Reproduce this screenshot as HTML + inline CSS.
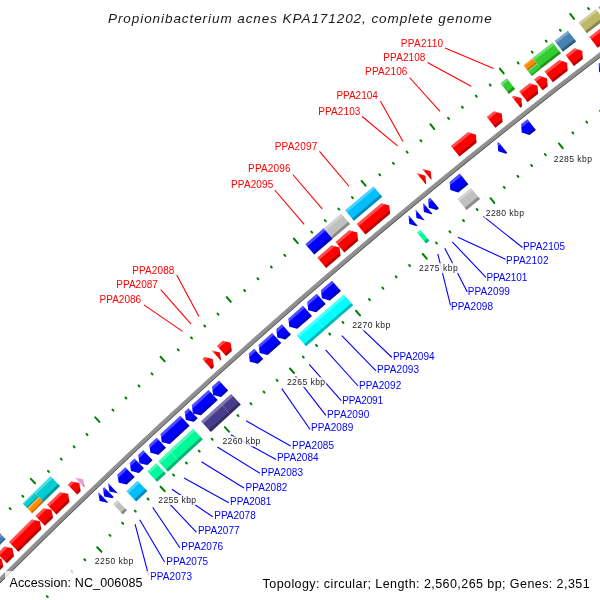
<!DOCTYPE html><html><head><meta charset="utf-8"><style>html,body{margin:0;padding:0;background:#fff;width:600px;height:600px;overflow:hidden;position:relative}</style></head><body><svg width="600" height="600" viewBox="0 0 600 600" style="position:absolute;left:0;top:0;will-change:transform">
<defs><clipPath id="cH143"><rect x="-500" y="-1" width="1000" height="4.00"/></clipPath><clipPath id="cS143"><rect x="-500" y="11.44" width="1000" height="3.86"/></clipPath><clipPath id="cH136"><rect x="-500" y="-1" width="1000" height="3.86"/></clipPath><clipPath id="cS136"><rect x="-500" y="10.88" width="1000" height="3.72"/></clipPath><clipPath id="cH68"><rect x="-500" y="-1" width="1000" height="2.43"/></clipPath><clipPath id="cS68"><rect x="-500" y="5.44" width="1000" height="2.36"/></clipPath><clipPath id="cH68"><rect x="-500" y="-1" width="1000" height="2.43"/></clipPath><clipPath id="cS68"><rect x="-500" y="5.44" width="1000" height="2.36"/></clipPath></defs>
<rect width="600" height="600" fill="#fff"/>
<g stroke="#008000" stroke-width="2" stroke-linecap="round"><line x1="-52.43" y1="571.87" x2="-53.43" y2="570.88"/><line x1="10.63" y1="634.34" x2="9.63" y2="633.35"/><line x1="-39.89" y1="559.25" x2="-40.89" y2="558.26"/><line x1="22.99" y1="621.90" x2="21.99" y2="620.91"/><line x1="-28.31" y1="545.67" x2="-32.69" y2="541.28"/><line x1="38.98" y1="613.11" x2="34.67" y2="608.79"/><line x1="-14.71" y1="534.11" x2="-15.69" y2="533.12"/><line x1="47.81" y1="597.13" x2="46.82" y2="596.14"/><line x1="-2.06" y1="521.60" x2="-3.04" y2="520.61"/><line x1="60.27" y1="584.80" x2="59.29" y2="583.81"/><line x1="10.63" y1="509.13" x2="9.65" y2="508.13"/><line x1="72.77" y1="572.51" x2="71.79" y2="571.51"/><line x1="23.35" y1="496.69" x2="22.37" y2="495.69"/><line x1="85.31" y1="560.26" x2="84.33" y2="559.25"/><line x1="35.13" y1="483.29" x2="30.82" y2="478.84"/><line x1="101.43" y1="551.70" x2="97.18" y2="547.32"/><line x1="48.90" y1="471.93" x2="47.93" y2="470.92"/><line x1="110.49" y1="535.85" x2="109.51" y2="534.85"/><line x1="61.73" y1="459.61" x2="60.76" y2="458.60"/><line x1="123.13" y1="523.71" x2="122.16" y2="522.70"/><line x1="74.59" y1="447.32" x2="73.63" y2="446.30"/><line x1="135.81" y1="511.60" x2="134.84" y2="510.59"/><line x1="87.50" y1="435.07" x2="86.53" y2="434.05"/><line x1="148.52" y1="499.53" x2="147.56" y2="498.51"/><line x1="99.47" y1="421.84" x2="95.22" y2="417.32"/><line x1="164.77" y1="491.21" x2="160.58" y2="486.77"/><line x1="113.41" y1="410.68" x2="112.45" y2="409.66"/><line x1="174.05" y1="475.50" x2="173.10" y2="474.47"/><line x1="126.41" y1="398.55" x2="125.46" y2="397.52"/><line x1="186.87" y1="463.54" x2="185.92" y2="462.51"/><line x1="139.46" y1="386.45" x2="138.51" y2="385.42"/><line x1="199.73" y1="451.62" x2="198.78" y2="450.59"/><line x1="152.54" y1="374.39" x2="151.59" y2="373.36"/><line x1="212.61" y1="439.73" x2="211.67" y2="438.70"/><line x1="164.71" y1="361.33" x2="160.52" y2="356.76"/><line x1="228.98" y1="431.65" x2="224.86" y2="427.15"/><line x1="178.80" y1="350.38" x2="177.86" y2="349.35"/><line x1="238.50" y1="416.07" x2="237.55" y2="415.04"/><line x1="191.98" y1="338.44" x2="191.04" y2="337.40"/><line x1="251.49" y1="404.30" x2="250.55" y2="403.26"/><line x1="205.20" y1="326.53" x2="204.27" y2="325.49"/><line x1="264.51" y1="392.57" x2="263.58" y2="391.53"/><line x1="218.45" y1="314.66" x2="217.52" y2="313.62"/><line x1="277.57" y1="380.87" x2="276.64" y2="379.83"/><line x1="230.81" y1="301.78" x2="226.70" y2="297.15"/><line x1="294.05" y1="373.03" x2="290.00" y2="368.47"/><line x1="245.06" y1="291.04" x2="244.14" y2="289.99"/><line x1="303.80" y1="357.60" x2="302.87" y2="356.55"/><line x1="258.42" y1="279.29" x2="257.50" y2="278.24"/><line x1="316.96" y1="346.02" x2="316.04" y2="344.96"/><line x1="271.81" y1="267.58" x2="270.89" y2="266.52"/><line x1="330.15" y1="334.47" x2="329.23" y2="333.42"/><line x1="285.24" y1="255.90" x2="284.32" y2="254.84"/><line x1="343.38" y1="322.97" x2="342.47" y2="321.91"/><line x1="297.78" y1="243.21" x2="293.74" y2="238.51"/><line x1="359.98" y1="315.37" x2="355.99" y2="310.75"/><line x1="312.19" y1="232.67" x2="311.28" y2="231.61"/><line x1="369.94" y1="300.08" x2="369.03" y2="299.02"/><line x1="325.72" y1="221.12" x2="324.81" y2="220.05"/><line x1="383.27" y1="288.69" x2="382.37" y2="287.63"/><line x1="339.28" y1="209.60" x2="338.37" y2="208.53"/><line x1="396.64" y1="277.34" x2="395.73" y2="276.28"/><line x1="352.87" y1="198.13" x2="351.97" y2="197.05"/><line x1="410.03" y1="266.03" x2="409.13" y2="264.96"/><line x1="365.60" y1="185.61" x2="361.62" y2="180.86"/><line x1="426.73" y1="258.68" x2="422.82" y2="254.00"/><line x1="380.16" y1="175.29" x2="379.26" y2="174.22"/><line x1="436.92" y1="243.53" x2="436.03" y2="242.46"/><line x1="393.85" y1="163.93" x2="392.96" y2="162.86"/><line x1="450.42" y1="232.34" x2="449.53" y2="231.26"/><line x1="407.58" y1="152.62" x2="406.69" y2="151.54"/><line x1="463.95" y1="221.19" x2="463.06" y2="220.11"/><line x1="421.34" y1="141.34" x2="420.45" y2="140.26"/><line x1="477.50" y1="210.08" x2="476.62" y2="208.99"/><line x1="434.25" y1="129.02" x2="430.34" y2="124.20"/><line x1="494.31" y1="202.96" x2="490.47" y2="198.23"/><line x1="448.96" y1="118.91" x2="448.08" y2="117.82"/><line x1="504.72" y1="187.97" x2="503.84" y2="186.88"/><line x1="462.82" y1="107.75" x2="461.94" y2="106.66"/><line x1="518.38" y1="176.98" x2="517.50" y2="175.88"/><line x1="476.71" y1="96.64" x2="475.83" y2="95.54"/><line x1="532.07" y1="166.02" x2="531.19" y2="164.93"/><line x1="490.63" y1="85.56" x2="489.76" y2="84.46"/><line x1="545.79" y1="155.11" x2="544.92" y2="154.01"/><line x1="503.72" y1="73.43" x2="499.88" y2="68.56"/><line x1="562.70" y1="148.24" x2="558.92" y2="143.45"/><line x1="518.57" y1="63.53" x2="517.71" y2="62.43"/><line x1="573.32" y1="133.40" x2="572.46" y2="132.30"/><line x1="532.59" y1="52.58" x2="531.73" y2="51.48"/><line x1="587.14" y1="122.61" x2="586.28" y2="121.50"/><line x1="546.64" y1="41.67" x2="545.79" y2="40.56"/><line x1="600.98" y1="111.86" x2="600.13" y2="110.75"/><line x1="560.73" y1="30.80" x2="559.87" y2="29.69"/><line x1="614.86" y1="101.14" x2="614.01" y2="100.03"/><line x1="573.99" y1="18.86" x2="570.22" y2="13.93"/><line x1="631.87" y1="94.52" x2="628.16" y2="89.68"/><line x1="588.99" y1="9.18" x2="588.14" y2="8.07"/><line x1="642.71" y1="79.84" x2="641.86" y2="78.73"/><line x1="603.16" y1="-1.57" x2="602.32" y2="-2.68"/><line x1="656.68" y1="69.25" x2="655.84" y2="68.13"/><line x1="617.37" y1="-12.27" x2="616.53" y2="-13.39"/><line x1="670.69" y1="58.70" x2="669.84" y2="57.58"/></g>
<line x1="493.61" y1="68.41" x2="445.00" y2="48.00" stroke="#ff0000" stroke-width="1.1"/><line x1="471.11" y1="86.26" x2="427.50" y2="62.50" stroke="#ff0000" stroke-width="1.1"/><line x1="439.94" y1="111.28" x2="409.50" y2="77.50" stroke="#ff0000" stroke-width="1.1"/><line x1="402.95" y1="141.41" x2="380.50" y2="101.30" stroke="#ff0000" stroke-width="1.1"/><line x1="397.51" y1="145.88" x2="362.10" y2="116.50" stroke="#ff0000" stroke-width="1.1"/><line x1="348.98" y1="186.24" x2="319.50" y2="151.30" stroke="#ff0000" stroke-width="1.1"/><line x1="322.19" y1="208.89" x2="292.80" y2="174.50" stroke="#ff0000" stroke-width="1.1"/><line x1="304.17" y1="224.27" x2="274.70" y2="190.00" stroke="#ff0000" stroke-width="1.1"/><line x1="198.92" y1="316.58" x2="176.70" y2="275.00" stroke="#ff0000" stroke-width="1.1"/><line x1="190.90" y1="323.79" x2="160.70" y2="289.70" stroke="#ff0000" stroke-width="1.1"/><line x1="182.54" y1="331.33" x2="143.90" y2="304.90" stroke="#ff0000" stroke-width="1.1"/><line x1="483.32" y1="216.43" x2="522.50" y2="247.50" stroke="#0000ff" stroke-width="1.1"/><line x1="457.98" y1="237.25" x2="505.50" y2="259.20" stroke="#0000ff" stroke-width="1.1"/><line x1="452.25" y1="241.99" x2="486.00" y2="277.30" stroke="#0000ff" stroke-width="1.1"/><line x1="444.78" y1="248.19" x2="467.30" y2="292.00" stroke="#0000ff" stroke-width="1.1"/><line x1="437.81" y1="253.98" x2="450.50" y2="305.30" stroke="#0000ff" stroke-width="1.1"/><line x1="356.15" y1="323.30" x2="392.00" y2="357.50" stroke="#0000ff" stroke-width="1.1"/><line x1="341.82" y1="335.72" x2="376.00" y2="370.80" stroke="#0000ff" stroke-width="1.1"/><line x1="325.61" y1="349.87" x2="358.10" y2="386.00" stroke="#0000ff" stroke-width="1.1"/><line x1="309.18" y1="364.31" x2="341.30" y2="400.70" stroke="#0000ff" stroke-width="1.1"/><line x1="295.57" y1="376.36" x2="325.90" y2="415.30" stroke="#0000ff" stroke-width="1.1"/><line x1="281.78" y1="388.65" x2="310.10" y2="429.50" stroke="#0000ff" stroke-width="1.1"/><line x1="246.10" y1="420.78" x2="290.70" y2="446.10" stroke="#0000ff" stroke-width="1.1"/><line x1="230.85" y1="434.67" x2="276.00" y2="459.50" stroke="#0000ff" stroke-width="1.1"/><line x1="217.38" y1="447.03" x2="260.00" y2="473.30" stroke="#0000ff" stroke-width="1.1"/><line x1="201.42" y1="461.77" x2="244.00" y2="488.00" stroke="#0000ff" stroke-width="1.1"/><line x1="184.05" y1="477.93" x2="228.80" y2="502.70" stroke="#0000ff" stroke-width="1.1"/><line x1="171.92" y1="489.29" x2="212.70" y2="516.70" stroke="#0000ff" stroke-width="1.1"/><line x1="163.42" y1="497.29" x2="196.30" y2="532.20" stroke="#0000ff" stroke-width="1.1"/><line x1="152.74" y1="507.37" x2="179.90" y2="547.80" stroke="#0000ff" stroke-width="1.1"/><line x1="139.72" y1="519.75" x2="164.60" y2="562.00" stroke="#0000ff" stroke-width="1.1"/><line x1="135.06" y1="524.20" x2="148.70" y2="575.60" stroke="#0000ff" stroke-width="1.1"/>
<path d="M-21.885 602.128 A6054.000 6054.000 0 0 1 643.199 22.107" fill="none" stroke="#8e8e8e" stroke-width="4.60"/><path d="M-23.092 600.931 A6055.700 6055.700 0 0 1 642.178 20.748" fill="none" stroke="#999" stroke-width="1.00"/><path d="M-20.606 603.395 A6052.200 6052.200 0 0 1 644.280 23.546" fill="none" stroke="#5a5a5a" stroke-width="1.00"/>
<g transform="translate(-13.387 564.261) rotate(315.0388)"><polygon points="-14.58,0.00 9.98,0.00 14.58,6.80 9.98,13.60 -14.58,13.60" fill="#ff0000"/><polygon points="-14.58,0.00 9.98,0.00 14.58,6.80 9.98,13.60 -14.58,13.60" fill="#fff" fill-opacity="0.3" clip-path="url(#cH136)"/><polygon points="-14.58,0.00 9.98,0.00 14.58,6.80 9.98,13.60 -14.58,13.60" fill="#000" fill-opacity="0.28" clip-path="url(#cS136)"/></g><g transform="translate(2.484 548.471) rotate(315.2499)"><polygon points="-7.25,0.00 2.65,0.00 7.25,6.80 2.65,13.60 -7.25,13.60" fill="#ff0000"/><polygon points="-7.25,0.00 2.65,0.00 7.25,6.80 2.65,13.60 -7.25,13.60" fill="#fff" fill-opacity="0.3" clip-path="url(#cH136)"/><polygon points="-7.25,0.00 2.65,0.00 7.25,6.80 2.65,13.60 -7.25,13.60" fill="#000" fill-opacity="0.28" clip-path="url(#cS136)"/></g><g transform="translate(22.010 529.201) rotate(315.5087)"><polygon points="-18.39,0.00 13.79,0.00 18.39,6.80 13.79,13.60 -18.39,13.60" fill="#ff0000"/><polygon points="-18.39,0.00 13.79,0.00 18.39,6.80 13.79,13.60 -18.39,13.60" fill="#fff" fill-opacity="0.3" clip-path="url(#cH136)"/><polygon points="-18.39,0.00 13.79,0.00 18.39,6.80 13.79,13.60 -18.39,13.60" fill="#000" fill-opacity="0.28" clip-path="url(#cS136)"/></g><g transform="translate(41.117 510.513) rotate(315.7608)"><polygon points="-7.96,0.00 3.36,0.00 7.96,6.80 3.36,13.60 -7.96,13.60" fill="#ff0000"/><polygon points="-7.96,0.00 3.36,0.00 7.96,6.80 3.36,13.60 -7.96,13.60" fill="#fff" fill-opacity="0.3" clip-path="url(#cH136)"/><polygon points="-7.96,0.00 3.36,0.00 7.96,6.80 3.36,13.60 -7.96,13.60" fill="#000" fill-opacity="0.28" clip-path="url(#cS136)"/></g><g transform="translate(55.196 496.848) rotate(315.9458)"><polygon points="-11.34,0.00 6.74,0.00 11.34,6.80 6.74,13.60 -11.34,13.60" fill="#ff0000"/><polygon points="-11.34,0.00 6.74,0.00 11.34,6.80 6.74,13.60 -11.34,13.60" fill="#fff" fill-opacity="0.3" clip-path="url(#cH136)"/><polygon points="-11.34,0.00 6.74,0.00 11.34,6.80 6.74,13.60 -11.34,13.60" fill="#000" fill-opacity="0.28" clip-path="url(#cS136)"/></g><g transform="translate(71.164 481.455) rotate(316.1550)"><polygon points="-4.71,0.00 0.11,0.00 4.71,6.80 0.11,13.60 -4.71,13.60" fill="#ff0000"/><polygon points="-4.71,0.00 0.11,0.00 4.71,6.80 0.11,13.60 -4.71,13.60" fill="#fff" fill-opacity="0.3" clip-path="url(#cH136)"/><polygon points="-4.71,0.00 0.11,0.00 4.71,6.80 0.11,13.60 -4.71,13.60" fill="#000" fill-opacity="0.28" clip-path="url(#cS136)"/></g><g transform="translate(76.797 476.051) rotate(316.2286)"><polygon points="-2.43,0.00 -2.17,0.00 2.43,6.80 -2.17,13.60 -2.43,13.60" fill="#f39ad6"/><polygon points="-2.43,0.00 -2.17,0.00 2.43,6.80 -2.17,13.60 -2.43,13.60" fill="#fff" fill-opacity="0.3" clip-path="url(#cH136)"/><polygon points="-2.43,0.00 -2.17,0.00 2.43,6.80 -2.17,13.60 -2.43,13.60" fill="#000" fill-opacity="0.28" clip-path="url(#cS136)"/></g><g transform="translate(205.276 356.478) rotate(317.8841)"><polygon points="-3.84,0.00 -0.76,0.00 3.84,6.80 -0.76,13.60 -3.84,13.60" fill="#ff0000"/><polygon points="-3.84,0.00 -0.76,0.00 3.84,6.80 -0.76,13.60 -3.84,13.60" fill="#fff" fill-opacity="0.3" clip-path="url(#cH136)"/><polygon points="-3.84,0.00 -0.76,0.00 3.84,6.80 -0.76,13.60 -3.84,13.60" fill="#000" fill-opacity="0.28" clip-path="url(#cS136)"/></g><g transform="translate(213.590 348.976) rotate(317.9897)"><polygon points="-2.38,0.00 -2.22,0.00 2.38,6.80 -2.22,13.60 -2.38,13.60" fill="#ff0000"/><polygon points="-2.38,0.00 -2.22,0.00 2.38,6.80 -2.22,13.60 -2.38,13.60" fill="#fff" fill-opacity="0.3" clip-path="url(#cH136)"/><polygon points="-2.38,0.00 -2.22,0.00 2.38,6.80 -2.22,13.60 -2.38,13.60" fill="#000" fill-opacity="0.28" clip-path="url(#cS136)"/></g><g transform="translate(221.561 341.809) rotate(318.0908)"><polygon points="-6.14,0.00 1.54,0.00 6.14,6.80 1.54,13.60 -6.14,13.60" fill="#ff0000"/><polygon points="-6.14,0.00 1.54,0.00 6.14,6.80 1.54,13.60 -6.14,13.60" fill="#fff" fill-opacity="0.3" clip-path="url(#cH136)"/><polygon points="-6.14,0.00 1.54,0.00 6.14,6.80 1.54,13.60 -6.14,13.60" fill="#000" fill-opacity="0.28" clip-path="url(#cS136)"/></g><g transform="translate(326.227 250.011) rotate(319.4039)"><polygon points="-11.73,0.00 7.13,0.00 11.73,6.80 7.13,13.60 -11.73,13.60" fill="#ff0000"/><polygon points="-11.73,0.00 7.13,0.00 11.73,6.80 7.13,13.60 -11.73,13.60" fill="#fff" fill-opacity="0.3" clip-path="url(#cH136)"/><polygon points="-11.73,0.00 7.13,0.00 11.73,6.80 7.13,13.60 -11.73,13.60" fill="#000" fill-opacity="0.28" clip-path="url(#cS136)"/></g><g transform="translate(344.150 234.711) rotate(319.6262)"><polygon points="-11.31,0.00 6.71,0.00 11.31,6.80 6.71,13.60 -11.31,13.60" fill="#ff0000"/><polygon points="-11.31,0.00 6.71,0.00 11.31,6.80 6.71,13.60 -11.31,13.60" fill="#fff" fill-opacity="0.3" clip-path="url(#cH136)"/><polygon points="-11.31,0.00 6.71,0.00 11.31,6.80 6.71,13.60 -11.31,13.60" fill="#000" fill-opacity="0.28" clip-path="url(#cS136)"/></g><g transform="translate(370.793 212.189) rotate(319.9553)"><polygon points="-18.41,0.00 13.81,0.00 18.41,6.80 13.81,13.60 -18.41,13.60" fill="#ff0000"/><polygon points="-18.41,0.00 13.81,0.00 18.41,6.80 13.81,13.60 -18.41,13.60" fill="#fff" fill-opacity="0.3" clip-path="url(#cH136)"/><polygon points="-18.41,0.00 13.81,0.00 18.41,6.80 13.81,13.60 -18.41,13.60" fill="#000" fill-opacity="0.28" clip-path="url(#cS136)"/></g><g transform="translate(419.053 172.053) rotate(320.5473)"><polygon points="-2.57,0.00 -2.03,0.00 2.57,6.80 -2.03,13.60 -2.57,13.60" fill="#ff0000"/><polygon points="-2.57,0.00 -2.03,0.00 2.57,6.80 -2.03,13.60 -2.57,13.60" fill="#fff" fill-opacity="0.3" clip-path="url(#cH136)"/><polygon points="-2.57,0.00 -2.03,0.00 2.57,6.80 -2.03,13.60 -2.57,13.60" fill="#000" fill-opacity="0.28" clip-path="url(#cS136)"/></g><g transform="translate(424.462 167.607) rotate(320.6133)"><polygon points="-2.49,0.00 -2.11,0.00 2.49,6.80 -2.11,13.60 -2.49,13.60" fill="#ff0000"/><polygon points="-2.49,0.00 -2.11,0.00 2.49,6.80 -2.11,13.60 -2.49,13.60" fill="#fff" fill-opacity="0.3" clip-path="url(#cH136)"/><polygon points="-2.49,0.00 -2.11,0.00 2.49,6.80 -2.11,13.60 -2.49,13.60" fill="#000" fill-opacity="0.28" clip-path="url(#cS136)"/></g><g transform="translate(461.241 137.650) rotate(321.0607)"><polygon points="-13.27,0.00 8.67,0.00 13.27,6.80 8.67,13.60 -13.27,13.60" fill="#ff0000"/><polygon points="-13.27,0.00 8.67,0.00 13.27,6.80 8.67,13.60 -13.27,13.60" fill="#fff" fill-opacity="0.3" clip-path="url(#cH136)"/><polygon points="-13.27,0.00 8.67,0.00 13.27,6.80 8.67,13.60 -13.27,13.60" fill="#000" fill-opacity="0.28" clip-path="url(#cS136)"/></g><g transform="translate(492.241 112.769) rotate(321.4356)"><polygon points="-6.91,0.00 2.31,0.00 6.91,6.80 2.31,13.60 -6.91,13.60" fill="#ff0000"/><polygon points="-6.91,0.00 2.31,0.00 6.91,6.80 2.31,13.60 -6.91,13.60" fill="#fff" fill-opacity="0.3" clip-path="url(#cH136)"/><polygon points="-6.91,0.00 2.31,0.00 6.91,6.80 2.31,13.60 -6.91,13.60" fill="#000" fill-opacity="0.28" clip-path="url(#cS136)"/></g><g transform="translate(514.615 95.017) rotate(321.7050)"><polygon points="-3.26,0.00 -1.34,0.00 3.26,6.80 -1.34,13.60 -3.26,13.60" fill="#ff0000"/><polygon points="-3.26,0.00 -1.34,0.00 3.26,6.80 -1.34,13.60 -3.26,13.60" fill="#fff" fill-opacity="0.3" clip-path="url(#cH136)"/><polygon points="-3.26,0.00 -1.34,0.00 3.26,6.80 -1.34,13.60 -3.26,13.60" fill="#000" fill-opacity="0.28" clip-path="url(#cS136)"/></g><g transform="translate(526.260 85.844) rotate(321.8449)"><polygon points="-9.00,0.00 4.40,0.00 9.00,6.80 4.40,13.60 -9.00,13.60" fill="#ff0000"/><polygon points="-9.00,0.00 4.40,0.00 9.00,6.80 4.40,13.60 -9.00,13.60" fill="#fff" fill-opacity="0.3" clip-path="url(#cH136)"/><polygon points="-9.00,0.00 4.40,0.00 9.00,6.80 4.40,13.60 -9.00,13.60" fill="#000" fill-opacity="0.28" clip-path="url(#cS136)"/></g><g transform="translate(538.528 76.231) rotate(321.9919)"><polygon points="-5.47,0.00 0.87,0.00 5.47,6.80 0.87,13.60 -5.47,13.60" fill="#ff0000"/><polygon points="-5.47,0.00 0.87,0.00 5.47,6.80 0.87,13.60 -5.47,13.60" fill="#fff" fill-opacity="0.3" clip-path="url(#cH136)"/><polygon points="-5.47,0.00 0.87,0.00 5.47,6.80 0.87,13.60 -5.47,13.60" fill="#000" fill-opacity="0.28" clip-path="url(#cS136)"/></g><g transform="translate(553.734 64.386) rotate(322.1737)"><polygon points="-11.61,0.00 7.01,0.00 11.61,6.80 7.01,13.60 -11.61,13.60" fill="#ff0000"/><polygon points="-11.61,0.00 7.01,0.00 11.61,6.80 7.01,13.60 -11.61,13.60" fill="#fff" fill-opacity="0.3" clip-path="url(#cH136)"/><polygon points="-11.61,0.00 7.01,0.00 11.61,6.80 7.01,13.60 -11.61,13.60" fill="#000" fill-opacity="0.28" clip-path="url(#cS136)"/></g><g transform="translate(571.879 50.353) rotate(322.3900)"><polygon points="-7.91,0.00 3.31,0.00 7.91,6.80 3.31,13.60 -7.91,13.60" fill="#ff0000"/><polygon points="-7.91,0.00 3.31,0.00 7.91,6.80 3.31,13.60 -7.91,13.60" fill="#fff" fill-opacity="0.3" clip-path="url(#cH136)"/><polygon points="-7.91,0.00 3.31,0.00 7.91,6.80 3.31,13.60 -7.91,13.60" fill="#000" fill-opacity="0.28" clip-path="url(#cS136)"/></g><g transform="translate(600.651 28.324) rotate(322.7318)"><polygon points="-14.14,0.00 9.54,0.00 14.14,6.80 9.54,13.60 -14.14,13.60" fill="#ff0000"/><polygon points="-14.14,0.00 9.54,0.00 14.14,6.80 9.54,13.60 -14.14,13.60" fill="#fff" fill-opacity="0.3" clip-path="url(#cH136)"/><polygon points="-14.14,0.00 9.54,0.00 14.14,6.80 9.54,13.60 -14.14,13.60" fill="#000" fill-opacity="0.28" clip-path="url(#cS136)"/></g><g transform="translate(-13.515 548.576) rotate(315.1423)"><polygon points="-20.29,0.00 20.29,0.00 20.29,6.80 -20.29,6.80" fill="#4682b4"/><polygon points="-20.29,0.00 20.29,0.00 20.29,6.80 -20.29,6.80" fill="#fff" fill-opacity="0.3" clip-path="url(#cH68)"/><polygon points="-20.29,0.00 20.29,0.00 20.29,6.80 -20.29,6.80" fill="#000" fill-opacity="0.28" clip-path="url(#cS68)"/></g><g transform="translate(-18.312 543.755) rotate(315.1423)"><polygon points="-20.31,0.00 20.31,0.00 20.31,6.80 -20.31,6.80" fill="#483d8b"/><polygon points="-20.31,0.00 20.31,0.00 20.31,6.80 -20.31,6.80" fill="#fff" fill-opacity="0.3" clip-path="url(#cH68)"/><polygon points="-20.31,0.00 20.31,0.00 20.31,6.80 -20.31,6.80" fill="#000" fill-opacity="0.28" clip-path="url(#cS68)"/></g><g transform="translate(28.374 497.797) rotate(315.7583)"><polygon points="-8.06,0.00 8.06,0.00 8.06,6.80 -8.06,6.80" fill="#00ced1"/><polygon points="-8.06,0.00 8.06,0.00 8.06,6.80 -8.06,6.80" fill="#fff" fill-opacity="0.3" clip-path="url(#cH68)"/><polygon points="-8.06,0.00 8.06,0.00 8.06,6.80 -8.06,6.80" fill="#000" fill-opacity="0.28" clip-path="url(#cS68)"/></g><g transform="translate(33.131 502.656) rotate(315.7585)"><polygon points="-8.04,0.00 8.04,0.00 8.04,6.80 -8.04,6.80" fill="#ff8c00"/><polygon points="-8.04,0.00 8.04,0.00 8.04,6.80 -8.04,6.80" fill="#fff" fill-opacity="0.3" clip-path="url(#cH68)"/><polygon points="-8.04,0.00 8.04,0.00 8.04,6.80 -8.04,6.80" fill="#000" fill-opacity="0.28" clip-path="url(#cS68)"/></g><g transform="translate(42.380 484.201) rotate(315.9419)"><polygon points="-11.44,0.00 11.44,0.00 11.44,13.60 -11.44,13.60" fill="#00ced1"/><polygon points="-11.44,0.00 11.44,0.00 11.44,13.60 -11.44,13.60" fill="#fff" fill-opacity="0.3" clip-path="url(#cH136)"/><polygon points="-11.44,0.00 11.44,0.00 11.44,13.60 -11.44,13.60" fill="#000" fill-opacity="0.28" clip-path="url(#cS136)"/></g><g transform="translate(314.602 236.268) rotate(319.4050)"><polygon points="-12.15,0.00 12.15,0.00 12.15,13.60 -12.15,13.60" fill="#0000ff"/><polygon points="-12.15,0.00 12.15,0.00 12.15,13.60 -12.15,13.60" fill="#fff" fill-opacity="0.3" clip-path="url(#cH136)"/><polygon points="-12.15,0.00 12.15,0.00 12.15,13.60 -12.15,13.60" fill="#000" fill-opacity="0.28" clip-path="url(#cS136)"/></g><g transform="translate(332.565 220.935) rotate(319.6271)"><polygon points="-11.44,0.00 11.44,0.00 11.44,13.60 -11.44,13.60" fill="#c0c0c0"/><polygon points="-11.44,0.00 11.44,0.00 11.44,13.60 -11.44,13.60" fill="#fff" fill-opacity="0.3" clip-path="url(#cH136)"/><polygon points="-11.44,0.00 11.44,0.00 11.44,13.60 -11.44,13.60" fill="#000" fill-opacity="0.28" clip-path="url(#cS136)"/></g><g transform="translate(359.314 198.324) rotate(319.9565)"><polygon points="-18.49,0.00 18.49,0.00 18.49,13.60 -18.49,13.60" fill="#00bfff"/><polygon points="-18.49,0.00 18.49,0.00 18.49,13.60 -18.49,13.60" fill="#fff" fill-opacity="0.3" clip-path="url(#cH136)"/><polygon points="-18.49,0.00 18.49,0.00 18.49,13.60 -18.49,13.60" fill="#000" fill-opacity="0.28" clip-path="url(#cS136)"/></g><g transform="translate(503.627 80.758) rotate(321.7070)"><polygon points="-4.02,0.00 4.02,0.00 4.02,13.60 -4.02,13.60" fill="#32cd32"/><polygon points="-4.02,0.00 4.02,0.00 4.02,13.60 -4.02,13.60" fill="#fff" fill-opacity="0.3" clip-path="url(#cH136)"/><polygon points="-4.02,0.00 4.02,0.00 4.02,13.60 -4.02,13.60" fill="#000" fill-opacity="0.28" clip-path="url(#cS136)"/></g><g transform="translate(532.120 67.024) rotate(321.9977)"><polygon points="-5.80,0.00 5.80,0.00 5.80,6.80 -5.80,6.80" fill="#32cd32"/><polygon points="-5.80,0.00 5.80,0.00 5.80,6.80 -5.80,6.80" fill="#fff" fill-opacity="0.3" clip-path="url(#cH68)"/><polygon points="-5.80,0.00 5.80,0.00 5.80,6.80 -5.80,6.80" fill="#000" fill-opacity="0.28" clip-path="url(#cS68)"/></g><g transform="translate(527.969 61.639) rotate(321.9981)"><polygon points="-5.77,0.00 5.77,0.00 5.77,6.80 -5.77,6.80" fill="#ff8c00"/><polygon points="-5.77,0.00 5.77,0.00 5.77,6.80 -5.77,6.80" fill="#fff" fill-opacity="0.3" clip-path="url(#cH68)"/><polygon points="-5.77,0.00 5.77,0.00 5.77,6.80 -5.77,6.80" fill="#000" fill-opacity="0.28" clip-path="url(#cS68)"/></g><g transform="translate(542.604 50.239) rotate(322.1726)"><polygon points="-12.77,0.00 12.77,0.00 12.77,13.60 -12.77,13.60" fill="#32cd32"/><polygon points="-12.77,0.00 12.77,0.00 12.77,13.60 -12.77,13.60" fill="#fff" fill-opacity="0.3" clip-path="url(#cH136)"/><polygon points="-12.77,0.00 12.77,0.00 12.77,13.60 -12.77,13.60" fill="#000" fill-opacity="0.28" clip-path="url(#cS136)"/></g><g transform="translate(561.245 35.823) rotate(322.3942)"><polygon points="-8.38,0.00 8.38,0.00 8.38,13.60 -8.38,13.60" fill="#4682b4"/><polygon points="-8.38,0.00 8.38,0.00 8.38,13.60 -8.38,13.60" fill="#fff" fill-opacity="0.3" clip-path="url(#cH136)"/><polygon points="-8.38,0.00 8.38,0.00 8.38,13.60 -8.38,13.60" fill="#000" fill-opacity="0.28" clip-path="url(#cS136)"/></g><g transform="translate(587.350 15.827) rotate(322.7034)"><polygon points="-10.99,0.00 10.99,0.00 10.99,13.60 -10.99,13.60" fill="#bdb76b"/><polygon points="-10.99,0.00 10.99,0.00 10.99,13.60 -10.99,13.60" fill="#fff" fill-opacity="0.3" clip-path="url(#cH136)"/><polygon points="-10.99,0.00 10.99,0.00 10.99,13.60 -10.99,13.60" fill="#000" fill-opacity="0.28" clip-path="url(#cS136)"/></g><g transform="translate(606.158 1.559) rotate(322.9254)"><polygon points="-9.57,0.00 9.57,0.00 9.57,13.60 -9.57,13.60" fill="#6e6e6e"/><polygon points="-9.57,0.00 9.57,0.00 9.57,13.60 -9.57,13.60" fill="#fff" fill-opacity="0.3" clip-path="url(#cH136)"/><polygon points="-9.57,0.00 9.57,0.00 9.57,13.60 -9.57,13.60" fill="#000" fill-opacity="0.28" clip-path="url(#cS136)"/></g><g transform="translate(96.780 494.298) rotate(316.2457)"><polygon points="2.05,0.00 2.55,0.00 2.55,13.60 2.05,13.60 -2.55,6.80" fill="#0000ff"/><polygon points="2.05,0.00 2.55,0.00 2.55,13.60 2.05,13.60 -2.55,6.80" fill="#fff" fill-opacity="0.3" clip-path="url(#cH136)"/><polygon points="2.05,0.00 2.55,0.00 2.55,13.60 2.05,13.60 -2.55,6.80" fill="#000" fill-opacity="0.28" clip-path="url(#cS136)"/></g><g transform="translate(101.874 489.426) rotate(316.3125)"><polygon points="1.34,0.00 3.26,0.00 3.26,13.60 1.34,13.60 -3.26,6.80" fill="#0000ff"/><polygon points="1.34,0.00 3.26,0.00 3.26,13.60 1.34,13.60 -3.26,6.80" fill="#fff" fill-opacity="0.3" clip-path="url(#cH136)"/><polygon points="1.34,0.00 3.26,0.00 3.26,13.60 1.34,13.60 -3.26,6.80" fill="#000" fill-opacity="0.28" clip-path="url(#cS136)"/></g><g transform="translate(106.528 484.986) rotate(316.3735)"><polygon points="2.14,0.00 2.46,0.00 2.46,13.60 2.14,13.60 -2.46,6.80" fill="#0000ff"/><polygon points="2.14,0.00 2.46,0.00 2.46,13.60 2.14,13.60 -2.46,6.80" fill="#fff" fill-opacity="0.3" clip-path="url(#cH136)"/><polygon points="2.14,0.00 2.46,0.00 2.46,13.60 2.14,13.60 -2.46,6.80" fill="#000" fill-opacity="0.28" clip-path="url(#cS136)"/></g><g transform="translate(119.686 472.481) rotate(316.5454)"><polygon points="-3.15,0.00 7.75,0.00 7.75,13.60 -3.15,13.60 -7.75,6.80" fill="#0000ff"/><polygon points="-3.15,0.00 7.75,0.00 7.75,13.60 -3.15,13.60 -7.75,6.80" fill="#fff" fill-opacity="0.3" clip-path="url(#cH136)"/><polygon points="-3.15,0.00 7.75,0.00 7.75,13.60 -3.15,13.60 -7.75,6.80" fill="#000" fill-opacity="0.28" clip-path="url(#cS136)"/></g><g transform="translate(130.445 462.313) rotate(316.6857)"><polygon points="-1.03,0.00 5.63,0.00 5.63,13.60 -1.03,13.60 -5.63,6.80" fill="#0000ff"/><polygon points="-1.03,0.00 5.63,0.00 5.63,13.60 -1.03,13.60 -5.63,6.80" fill="#fff" fill-opacity="0.3" clip-path="url(#cH136)"/><polygon points="-1.03,0.00 5.63,0.00 5.63,13.60 -1.03,13.60 -5.63,6.80" fill="#000" fill-opacity="0.28" clip-path="url(#cS136)"/></g><g transform="translate(139.013 454.251) rotate(316.7971)"><polygon points="-1.17,0.00 5.77,0.00 5.77,13.60 -1.17,13.60 -5.77,6.80" fill="#0000ff"/><polygon points="-1.17,0.00 5.77,0.00 5.77,13.60 -1.17,13.60 -5.77,6.80" fill="#fff" fill-opacity="0.3" clip-path="url(#cH136)"/><polygon points="-1.17,0.00 5.77,0.00 5.77,13.60 -1.17,13.60 -5.77,6.80" fill="#000" fill-opacity="0.28" clip-path="url(#cS136)"/></g><g transform="translate(151.239 442.800) rotate(316.9559)"><polygon points="-2.83,0.00 7.43,0.00 7.43,13.60 -2.83,13.60 -7.43,6.80" fill="#0000ff"/><polygon points="-2.83,0.00 7.43,0.00 7.43,13.60 -2.83,13.60 -7.43,6.80" fill="#fff" fill-opacity="0.3" clip-path="url(#cH136)"/><polygon points="-2.83,0.00 7.43,0.00 7.43,13.60 -2.83,13.60 -7.43,6.80" fill="#000" fill-opacity="0.28" clip-path="url(#cS136)"/></g><g transform="translate(168.751 426.510) rotate(317.1824)"><polygon points="-11.16,0.00 15.76,0.00 15.76,13.60 -11.16,13.60 -15.76,6.80" fill="#0000ff"/><polygon points="-11.16,0.00 15.76,0.00 15.76,13.60 -11.16,13.60 -15.76,6.80" fill="#fff" fill-opacity="0.3" clip-path="url(#cH136)"/><polygon points="-11.16,0.00 15.76,0.00 15.76,13.60 -11.16,13.60 -15.76,6.80" fill="#000" fill-opacity="0.28" clip-path="url(#cS136)"/></g><g transform="translate(184.841 411.655) rotate(317.3899)"><polygon points="-0.29,0.00 4.89,0.00 4.89,13.60 -0.29,13.60 -4.89,6.80" fill="#0000ff"/><polygon points="-0.29,0.00 4.89,0.00 4.89,13.60 -0.29,13.60 -4.89,6.80" fill="#fff" fill-opacity="0.3" clip-path="url(#cH136)"/><polygon points="-0.29,0.00 4.89,0.00 4.89,13.60 -0.29,13.60 -4.89,6.80" fill="#000" fill-opacity="0.28" clip-path="url(#cS136)"/></g><g transform="translate(198.422 399.200) rotate(317.5645)"><polygon points="-9.04,0.00 13.64,0.00 13.64,13.60 -9.04,13.60 -13.64,6.80" fill="#0000ff"/><polygon points="-9.04,0.00 13.64,0.00 13.64,13.60 -9.04,13.60 -13.64,6.80" fill="#fff" fill-opacity="0.3" clip-path="url(#cH136)"/><polygon points="-9.04,0.00 13.64,0.00 13.64,13.60 -9.04,13.60 -13.64,6.80" fill="#000" fill-opacity="0.28" clip-path="url(#cS136)"/></g><g transform="translate(213.789 385.199) rotate(317.7614)"><polygon points="-2.43,0.00 7.03,0.00 7.03,13.60 -2.43,13.60 -7.03,6.80" fill="#0000ff"/><polygon points="-2.43,0.00 7.03,0.00 7.03,13.60 -2.43,13.60 -7.03,6.80" fill="#fff" fill-opacity="0.3" clip-path="url(#cH136)"/><polygon points="-2.43,0.00 7.03,0.00 7.03,13.60 -2.43,13.60 -7.03,6.80" fill="#000" fill-opacity="0.28" clip-path="url(#cS136)"/></g><g transform="translate(249.752 352.807) rotate(318.2200)"><polygon points="-1.32,0.00 5.92,0.00 5.92,13.60 -1.32,13.60 -5.92,6.80" fill="#0000ff"/><polygon points="-1.32,0.00 5.92,0.00 5.92,13.60 -1.32,13.60 -5.92,6.80" fill="#fff" fill-opacity="0.3" clip-path="url(#cH136)"/><polygon points="-1.32,0.00 5.92,0.00 5.92,13.60 -1.32,13.60 -5.92,6.80" fill="#000" fill-opacity="0.28" clip-path="url(#cS136)"/></g><g transform="translate(263.658 340.421) rotate(318.3964)"><polygon points="-6.76,0.00 11.36,0.00 11.36,13.60 -6.76,13.60 -11.36,6.80" fill="#0000ff"/><polygon points="-6.76,0.00 11.36,0.00 11.36,13.60 -6.76,13.60 -11.36,6.80" fill="#fff" fill-opacity="0.3" clip-path="url(#cH136)"/><polygon points="-6.76,0.00 11.36,0.00 11.36,13.60 -6.76,13.60 -11.36,6.80" fill="#000" fill-opacity="0.28" clip-path="url(#cS136)"/></g><g transform="translate(277.377 328.276) rotate(318.5700)"><polygon points="-1.45,0.00 6.05,0.00 6.05,13.60 -1.45,13.60 -6.05,6.80" fill="#0000ff"/><polygon points="-1.45,0.00 6.05,0.00 6.05,13.60 -1.45,13.60 -6.05,6.80" fill="#fff" fill-opacity="0.3" clip-path="url(#cH136)"/><polygon points="-1.45,0.00 6.05,0.00 6.05,13.60 -1.45,13.60 -6.05,6.80" fill="#000" fill-opacity="0.28" clip-path="url(#cS136)"/></g><g transform="translate(293.936 313.716) rotate(318.7789)"><polygon points="-7.45,0.00 12.05,0.00 12.05,13.60 -7.45,13.60 -12.05,6.80" fill="#0000ff"/><polygon points="-7.45,0.00 12.05,0.00 12.05,13.60 -7.45,13.60 -12.05,6.80" fill="#fff" fill-opacity="0.3" clip-path="url(#cH136)"/><polygon points="-7.45,0.00 12.05,0.00 12.05,13.60 -7.45,13.60 -12.05,6.80" fill="#000" fill-opacity="0.28" clip-path="url(#cS136)"/></g><g transform="translate(310.276 299.453) rotate(318.9844)"><polygon points="-4.01,0.00 8.61,0.00 8.61,13.60 -4.01,13.60 -8.61,6.80" fill="#0000ff"/><polygon points="-4.01,0.00 8.61,0.00 8.61,13.60 -4.01,13.60 -8.61,6.80" fill="#fff" fill-opacity="0.3" clip-path="url(#cH136)"/><polygon points="-4.01,0.00 8.61,0.00 8.61,13.60 -4.01,13.60 -8.61,6.80" fill="#000" fill-opacity="0.28" clip-path="url(#cS136)"/></g><g transform="translate(324.719 286.931) rotate(319.1655)"><polygon points="-5.02,0.00 9.62,0.00 9.62,13.60 -5.02,13.60 -9.62,6.80" fill="#0000ff"/><polygon points="-5.02,0.00 9.62,0.00 9.62,13.60 -5.02,13.60 -9.62,6.80" fill="#fff" fill-opacity="0.3" clip-path="url(#cH136)"/><polygon points="-5.02,0.00 9.62,0.00 9.62,13.60 -5.02,13.60 -9.62,6.80" fill="#000" fill-opacity="0.28" clip-path="url(#cS136)"/></g><g transform="translate(406.985 217.106) rotate(320.1878)"><polygon points="2.00,0.00 2.60,0.00 2.60,13.60 2.00,13.60 -2.60,6.80" fill="#0000ff"/><polygon points="2.00,0.00 2.60,0.00 2.60,13.60 2.00,13.60 -2.60,6.80" fill="#fff" fill-opacity="0.3" clip-path="url(#cH136)"/><polygon points="2.00,0.00 2.60,0.00 2.60,13.60 2.00,13.60 -2.60,6.80" fill="#000" fill-opacity="0.28" clip-path="url(#cS136)"/></g><g transform="translate(413.996 211.271) rotate(320.2742)"><polygon points="2.14,0.00 2.46,0.00 2.46,13.60 2.14,13.60 -2.46,6.80" fill="#0000ff"/><polygon points="2.14,0.00 2.46,0.00 2.46,13.60 2.14,13.60 -2.46,6.80" fill="#fff" fill-opacity="0.3" clip-path="url(#cH136)"/><polygon points="2.14,0.00 2.46,0.00 2.46,13.60 2.14,13.60 -2.46,6.80" fill="#000" fill-opacity="0.28" clip-path="url(#cS136)"/></g><g transform="translate(421.592 204.969) rotate(320.3677)"><polygon points="1.96,0.00 2.64,0.00 2.64,13.60 1.96,13.60 -2.64,6.80" fill="#0000ff"/><polygon points="1.96,0.00 2.64,0.00 2.64,13.60 1.96,13.60 -2.64,6.80" fill="#fff" fill-opacity="0.3" clip-path="url(#cH136)"/><polygon points="1.96,0.00 2.64,0.00 2.64,13.60 1.96,13.60 -2.64,6.80" fill="#000" fill-opacity="0.28" clip-path="url(#cS136)"/></g><g transform="translate(427.364 200.195) rotate(320.4387)"><polygon points="0.90,0.00 3.70,0.00 3.70,13.60 0.90,13.60 -3.70,6.80" fill="#0000ff"/><polygon points="0.90,0.00 3.70,0.00 3.70,13.60 0.90,13.60 -3.70,6.80" fill="#fff" fill-opacity="0.3" clip-path="url(#cH136)"/><polygon points="0.90,0.00 3.70,0.00 3.70,13.60 0.90,13.60 -3.70,6.80" fill="#000" fill-opacity="0.28" clip-path="url(#cS136)"/></g><g transform="translate(452.912 179.206) rotate(320.7519)"><polygon points="-4.24,0.00 8.84,0.00 8.84,13.60 -4.24,13.60 -8.84,6.80" fill="#0000ff"/><polygon points="-4.24,0.00 8.84,0.00 8.84,13.60 -4.24,13.60 -8.84,6.80" fill="#fff" fill-opacity="0.3" clip-path="url(#cH136)"/><polygon points="-4.24,0.00 8.84,0.00 8.84,13.60 -4.24,13.60 -8.84,6.80" fill="#000" fill-opacity="0.28" clip-path="url(#cS136)"/></g><g transform="translate(496.299 144.093) rotate(321.2807)"><polygon points="1.57,0.00 3.03,0.00 3.03,13.60 1.57,13.60 -3.03,6.80" fill="#0000ff"/><polygon points="1.57,0.00 3.03,0.00 3.03,13.60 1.57,13.60 -3.03,6.80" fill="#fff" fill-opacity="0.3" clip-path="url(#cH136)"/><polygon points="1.57,0.00 3.03,0.00 3.03,13.60 1.57,13.60 -3.03,6.80" fill="#000" fill-opacity="0.28" clip-path="url(#cS136)"/></g><g transform="translate(522.447 123.248) rotate(321.5975)"><polygon points="-1.76,0.00 6.36,0.00 6.36,13.60 -1.76,13.60 -6.36,6.80" fill="#0000ff"/><polygon points="-1.76,0.00 6.36,0.00 6.36,13.60 -1.76,13.60 -6.36,6.80" fill="#fff" fill-opacity="0.3" clip-path="url(#cH136)"/><polygon points="-1.76,0.00 6.36,0.00 6.36,13.60 -1.76,13.60 -6.36,6.80" fill="#000" fill-opacity="0.28" clip-path="url(#cS136)"/></g><g transform="translate(604.604 59.269) rotate(322.5841)"><polygon points="-7.46,0.00 12.06,0.00 12.06,13.60 -7.46,13.60 -12.06,6.80" fill="#0000ff"/><polygon points="-7.46,0.00 12.06,0.00 12.06,13.60 -7.46,13.60 -12.06,6.80" fill="#fff" fill-opacity="0.3" clip-path="url(#cH136)"/><polygon points="-7.46,0.00 12.06,0.00 12.06,13.60 -7.46,13.60 -12.06,6.80" fill="#000" fill-opacity="0.28" clip-path="url(#cS136)"/></g><g transform="translate(115.049 502.011) rotate(316.3205)"><polygon points="-2.94,0.00 2.94,0.00 2.94,14.30 -2.94,14.30" fill="#c0c0c0"/><polygon points="-2.94,0.00 2.94,0.00 2.94,14.30 -2.94,14.30" fill="#fff" fill-opacity="0.3" clip-path="url(#cH143)"/><polygon points="-2.94,0.00 2.94,0.00 2.94,14.30 -2.94,14.30" fill="#000" fill-opacity="0.28" clip-path="url(#cS143)"/></g><g transform="translate(131.936 485.947) rotate(316.5419)"><polygon points="-7.70,0.00 7.70,0.00 7.70,14.30 -7.70,14.30" fill="#00bfff"/><polygon points="-7.70,0.00 7.70,0.00 7.70,14.30 -7.70,14.30" fill="#fff" fill-opacity="0.3" clip-path="url(#cH143)"/><polygon points="-7.70,0.00 7.70,0.00 7.70,14.30 -7.70,14.30" fill="#000" fill-opacity="0.28" clip-path="url(#cS143)"/></g><g transform="translate(151.728 467.277) rotate(316.8005)"><polygon points="-6.01,0.00 6.01,0.00 6.01,14.30 -6.01,14.30" fill="#00fa9a"/><polygon points="-6.01,0.00 6.01,0.00 6.01,14.30 -6.01,14.30" fill="#fff" fill-opacity="0.3" clip-path="url(#cH143)"/><polygon points="-6.01,0.00 6.01,0.00 6.01,14.30 -6.01,14.30" fill="#000" fill-opacity="0.28" clip-path="url(#cS143)"/></g><g transform="translate(163.701 456.065) rotate(316.9564)"><polygon points="-7.56,0.00 7.56,0.00 7.56,14.30 -7.56,14.30" fill="#00fa9a"/><polygon points="-7.56,0.00 7.56,0.00 7.56,14.30 -7.56,14.30" fill="#fff" fill-opacity="0.3" clip-path="url(#cH143)"/><polygon points="-7.56,0.00 7.56,0.00 7.56,14.30 -7.56,14.30" fill="#000" fill-opacity="0.28" clip-path="url(#cS143)"/></g><g transform="translate(181.166 439.818) rotate(317.1830)"><polygon points="-16.26,0.00 16.26,0.00 16.26,14.30 -16.26,14.30" fill="#00fa9a"/><polygon points="-16.26,0.00 16.26,0.00 16.26,14.30 -16.26,14.30" fill="#fff" fill-opacity="0.3" clip-path="url(#cH143)"/><polygon points="-16.26,0.00 16.26,0.00 16.26,14.30 -16.26,14.30" fill="#000" fill-opacity="0.28" clip-path="url(#cS143)"/></g><g transform="translate(210.858 412.490) rotate(317.5665)"><polygon points="-13.16,0.00 13.16,0.00 13.16,14.30 -13.16,14.30" fill="#483d8b"/><polygon points="-13.16,0.00 13.16,0.00 13.16,14.30 -13.16,14.30" fill="#fff" fill-opacity="0.3" clip-path="url(#cH143)"/><polygon points="-13.16,0.00 13.16,0.00 13.16,14.30 -13.16,14.30" fill="#000" fill-opacity="0.28" clip-path="url(#cS143)"/></g><g transform="translate(225.893 398.792) rotate(317.7598)"><polygon points="-7.15,0.00 7.15,0.00 7.15,14.30 -7.15,14.30" fill="#483d8b"/><polygon points="-7.15,0.00 7.15,0.00 7.15,14.30 -7.15,14.30" fill="#fff" fill-opacity="0.3" clip-path="url(#cH143)"/><polygon points="-7.15,0.00 7.15,0.00 7.15,14.30 -7.15,14.30" fill="#000" fill-opacity="0.28" clip-path="url(#cS143)"/></g><g transform="translate(306.134 327.226) rotate(318.7815)"><polygon points="-12.62,0.00 12.62,0.00 12.62,14.30 -12.62,14.30" fill="#00ffff"/><polygon points="-12.62,0.00 12.62,0.00 12.62,14.30 -12.62,14.30" fill="#fff" fill-opacity="0.3" clip-path="url(#cH143)"/><polygon points="-12.62,0.00 12.62,0.00 12.62,14.30 -12.62,14.30" fill="#000" fill-opacity="0.28" clip-path="url(#cS143)"/></g><g transform="translate(322.074 313.312) rotate(318.9825)"><polygon points="-8.51,0.00 8.51,0.00 8.51,14.30 -8.51,14.30" fill="#00ffff"/><polygon points="-8.51,0.00 8.51,0.00 8.51,14.30 -8.51,14.30" fill="#fff" fill-opacity="0.3" clip-path="url(#cH143)"/><polygon points="-8.51,0.00 8.51,0.00 8.51,14.30 -8.51,14.30" fill="#000" fill-opacity="0.28" clip-path="url(#cS143)"/></g><g transform="translate(336.147 301.109) rotate(319.1596)"><polygon points="-10.09,0.00 10.09,0.00 10.09,14.30 -10.09,14.30" fill="#00ffff"/><polygon points="-10.09,0.00 10.09,0.00 10.09,14.30 -10.09,14.30" fill="#fff" fill-opacity="0.3" clip-path="url(#cH143)"/><polygon points="-10.09,0.00 10.09,0.00 10.09,14.30 -10.09,14.30" fill="#000" fill-opacity="0.28" clip-path="url(#cS143)"/></g><g transform="translate(418.578 231.137) rotate(320.1870)"><polygon points="-2.14,0.00 2.14,0.00 2.14,14.30 -2.14,14.30" fill="#00fa9a"/><polygon points="-2.14,0.00 2.14,0.00 2.14,14.30 -2.14,14.30" fill="#fff" fill-opacity="0.3" clip-path="url(#cH143)"/><polygon points="-2.14,0.00 2.14,0.00 2.14,14.30 -2.14,14.30" fill="#000" fill-opacity="0.28" clip-path="url(#cS143)"/></g><g transform="translate(464.243 193.450) rotate(320.7497)"><polygon points="-8.73,0.00 8.73,0.00 8.73,14.30 -8.73,14.30" fill="#c0c0c0"/><polygon points="-8.73,0.00 8.73,0.00 8.73,14.30 -8.73,14.30" fill="#fff" fill-opacity="0.3" clip-path="url(#cH143)"/><polygon points="-8.73,0.00 8.73,0.00 8.73,14.30 -8.73,14.30" fill="#000" fill-opacity="0.28" clip-path="url(#cS143)"/></g>
<rect x="93.5" y="556.4" width="41.0" height="10" fill="#fff" fill-opacity="0.85"/><rect x="157.1" y="495.0" width="40.2" height="10" fill="#fff" fill-opacity="0.85"/><rect x="221.2" y="436.5" width="40.3" height="10" fill="#fff" fill-opacity="0.85"/><rect x="285.7" y="377.2" width="40.6" height="10" fill="#fff" fill-opacity="0.85"/><rect x="351.0" y="320.4" width="40.4" height="10" fill="#fff" fill-opacity="0.85"/><rect x="417.8" y="263.2" width="41.2" height="10" fill="#fff" fill-opacity="0.85"/><rect x="484.5" y="208.3" width="40.8" height="10" fill="#fff" fill-opacity="0.85"/><rect x="552.5" y="154.2" width="40.7" height="10" fill="#fff" fill-opacity="0.85"/>
<g font-family="Liberation Sans, sans-serif" font-size="10"><text x="400.85" y="46.75" fill="#ff0000" textLength="42.30" lengthAdjust="spacing">PPA2110</text><text x="383.35" y="60.50" fill="#ff0000" textLength="42.05" lengthAdjust="spacing">PPA2108</text><text x="365.10" y="75.00" fill="#ff0000" textLength="42.30" lengthAdjust="spacing">PPA2106</text><text x="336.40" y="98.70" fill="#ff0000" textLength="41.40" lengthAdjust="spacing">PPA2104</text><text x="318.30" y="114.70" fill="#ff0000" textLength="42.10" lengthAdjust="spacing">PPA2103</text><text x="274.80" y="150.00" fill="#ff0000" textLength="42.40" lengthAdjust="spacing">PPA2097</text><text x="248.10" y="171.90" fill="#ff0000" textLength="42.50" lengthAdjust="spacing">PPA2096</text><text x="231.10" y="187.90" fill="#ff0000" textLength="42.10" lengthAdjust="spacing">PPA2095</text><text x="132.30" y="273.70" fill="#ff0000" textLength="42.10" lengthAdjust="spacing">PPA2088</text><text x="116.30" y="287.50" fill="#ff0000" textLength="41.60" lengthAdjust="spacing">PPA2087</text><text x="99.50" y="302.50" fill="#ff0000" textLength="41.60" lengthAdjust="spacing">PPA2086</text><text x="522.90" y="250.10" fill="#0000ff" textLength="42.20" lengthAdjust="spacing">PPA2105</text><text x="506.10" y="264.00" fill="#0000ff" textLength="42.50" lengthAdjust="spacing">PPA2102</text><text x="486.40" y="281.30" fill="#0000ff" textLength="40.80" lengthAdjust="spacing">PPA2101</text><text x="467.70" y="295.20" fill="#0000ff" textLength="42.20" lengthAdjust="spacing">PPA2099</text><text x="450.90" y="309.90" fill="#0000ff" textLength="42.20" lengthAdjust="spacing">PPA2098</text><text x="392.90" y="360.10" fill="#0000ff" textLength="41.70" lengthAdjust="spacing">PPA2094</text><text x="376.90" y="372.70" fill="#0000ff" textLength="42.20" lengthAdjust="spacing">PPA2093</text><text x="359.10" y="388.70" fill="#0000ff" textLength="42.10" lengthAdjust="spacing">PPA2092</text><text x="342.30" y="403.90" fill="#0000ff" textLength="40.80" lengthAdjust="spacing">PPA2091</text><text x="327.10" y="418.00" fill="#0000ff" textLength="42.10" lengthAdjust="spacing">PPA2090</text><text x="311.10" y="431.30" fill="#0000ff" textLength="42.10" lengthAdjust="spacing">PPA2089</text><text x="292.10" y="448.50" fill="#0000ff" textLength="41.90" lengthAdjust="spacing">PPA2085</text><text x="276.90" y="461.30" fill="#0000ff" textLength="41.70" lengthAdjust="spacing">PPA2084</text><text x="260.90" y="476.00" fill="#0000ff" textLength="42.20" lengthAdjust="spacing">PPA2083</text><text x="245.50" y="490.70" fill="#0000ff" textLength="41.90" lengthAdjust="spacing">PPA2082</text><text x="230.10" y="504.80" fill="#0000ff" textLength="41.30" lengthAdjust="spacing">PPA2081</text><text x="214.30" y="518.90" fill="#0000ff" textLength="41.40" lengthAdjust="spacing">PPA2078</text><text x="197.90" y="534.20" fill="#0000ff" textLength="41.70" lengthAdjust="spacing">PPA2077</text><text x="181.20" y="550.10" fill="#0000ff" textLength="41.90" lengthAdjust="spacing">PPA2076</text><text x="166.20" y="565.40" fill="#0000ff" textLength="41.90" lengthAdjust="spacing">PPA2075</text><text x="150.00" y="580.40" fill="#0000ff" textLength="42.00" lengthAdjust="spacing">PPA2073</text></g>
<g font-family="Liberation Sans, sans-serif" font-size="8.6" fill="#222"><text x="94.70" y="563.90" textLength="38.60" lengthAdjust="spacing">2250 kbp</text><text x="158.30" y="502.50" textLength="37.80" lengthAdjust="spacing">2255 kbp</text><text x="222.40" y="444.00" textLength="37.90" lengthAdjust="spacing">2260 kbp</text><text x="286.90" y="384.70" textLength="38.20" lengthAdjust="spacing">2265 kbp</text><text x="352.20" y="327.90" textLength="38.00" lengthAdjust="spacing">2270 kbp</text><text x="419.00" y="270.70" textLength="38.80" lengthAdjust="spacing">2275 kbp</text><text x="485.70" y="215.80" textLength="38.35" lengthAdjust="spacing">2280 kbp</text><text x="553.70" y="161.70" textLength="38.30" lengthAdjust="spacing">2285 kbp</text></g>
<text x="108" y="22.6" font-family="Liberation Sans, sans-serif" font-style="italic" font-size="13.5" fill="#1a1a1a" textLength="383.7" lengthAdjust="spacing">Propionibacterium acnes KPA171202, complete genome</text>
<rect x="5" y="571" width="146" height="20" fill="#fff" fill-opacity="0.8"/>
<rect x="258" y="571" width="337" height="20" fill="#fff" fill-opacity="0.8"/>
<text x="9.5" y="587" font-family="Liberation Sans, sans-serif" font-size="12.5" fill="#000" textLength="133" lengthAdjust="spacing">Accession: NC_006085</text>
<text x="262.6" y="587.5" font-family="Liberation Sans, sans-serif" font-size="12.5" fill="#000" textLength="327" lengthAdjust="spacing">Topology: circular; Length: 2,560,265 bp; Genes: 2,351</text>
</svg></body></html>
